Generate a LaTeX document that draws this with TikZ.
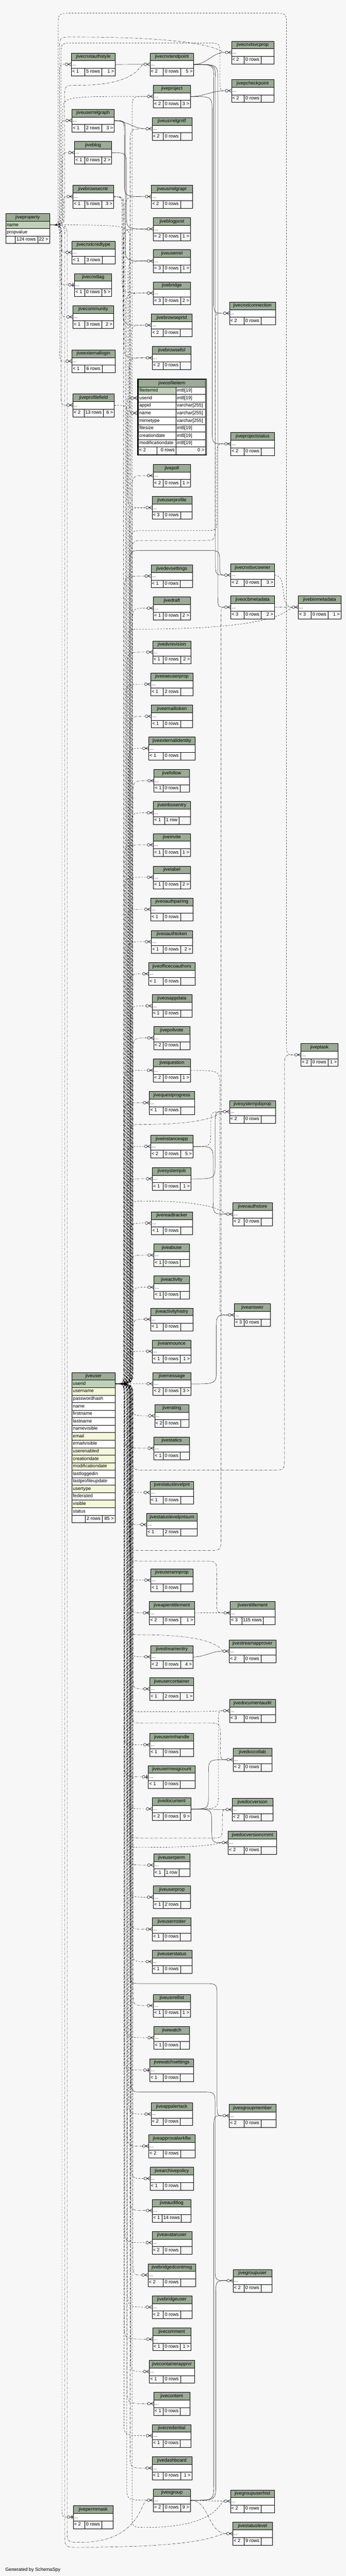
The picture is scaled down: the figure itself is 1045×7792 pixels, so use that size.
\documentclass[tikz,border=0pt]{standalone}
\usepackage{fontspec}
\setmainfont{Liberation Sans}
\usetikzlibrary{calc}
\definecolor{bgc}{HTML}{F7F7F7}
\definecolor{hdrc}{HTML}{9BAB96}
\definecolor{keyc}{HTML}{BED1B8}
\definecolor{idxc}{HTML}{F4F7DA}
\pgfdeclarelayer{bglayer}
\pgfdeclarelayer{edgelayer}
\pgfsetlayers{bglayer,edgelayer,main}
\newcommand\jfont{\fontsize{14.2}{16}\selectfont}
\newcommand\setmw[2]{\expandafter\def\csname jw@#1\endcsname{#2}}
\setmw{0 rows}{52}\setmw{1 row}{44}\setmw{2 rows}{52}\setmw{3 rows}{52}
\setmw{5 rows}{52}\setmw{6 rows}{52}\setmw{9 rows}{52}\setmw{13 rows}{58}
\setmw{14 rows}{58}\setmw{115 rows}{65}
\tikzset{
  cellbox/.style={draw=black, line width=0.9pt, inner xsep=3pt, inner ysep=0pt, anchor=north west, font=\jfont, text height=10.5pt, text depth=3pt},
  hdrbox/.style={cellbox, fill=hdrc, minimum height=23pt},
  rowbox/.style={cellbox, fill=white, minimum height=23pt, align=left},
  footbox/.style={cellbox, fill=bgc, minimum height=23pt},
  txt/.style={inner sep=0pt, font=\jfont, text height=10.5pt, text depth=3pt},
  rel/.style={line width=0.7pt, draw=black},
  imp/.style={rel, dash pattern=on 5pt off 4pt},
  impd/.style={rel, dash pattern=on 7pt off 3pt on 1.5pt off 3pt},
  crowline/.style={line width=0.8pt, draw=black, solid},
  bus/.style={to path={let \p1=(\tikztostart), \p2=(\tikztotarget), \n1={max(-45,min(45,(\y2-\y1)/2))} in .. controls (#1pt,\y1) .. (#1pt,{\y1+(\n1)}) -- (#1pt,{\y2-(\n1)}) .. controls (#1pt,\y2) .. (\tikztotarget)}},
  via/.style n args={3}{to path={let \p1=(\tikztostart), \p2=(\tikztotarget), \n1={max(-40,min(40,(-#2-(\y1))/2))}, \n2={max(-40,min(40,(\y2+#2)/2))} in .. controls (#1pt,\y1) .. (#1pt,{\y1+(\n1)}) -- (#1pt,{-#2pt-(\n1)}) .. controls (#1pt,-#2pt) .. (#1pt+40pt,-#2pt) -- (#3pt-40pt,-#2pt) .. controls (#3pt,-#2pt) .. (#3pt,{-#2pt+(\n2)}) -- (#3pt,{\y2-(\n2)}) .. controls (#3pt,\y2) .. (\tikztotarget)}},
  viac/.style n args={3}{to path={let \p1=(\tikztostart), \p2=(\tikztotarget), \n1={max(-40,min(40,(-#2-(\y1))/2))} in .. controls (#1pt,\y1) .. (#1pt,{\y1+(\n1)}) -- (#1pt,{-#2pt-(\n1)}) .. controls (#1pt,-#2pt) .. (#1pt+40pt,-#2pt) .. controls (#3pt,-#2pt) and (#3pt,\y2) .. (\tikztotarget)}},
}
\newcommand\crowat[2]{%
  \draw[crowline] (#1-9.5,#2) -- (#1,#2-5) (#1-9.5,#2) -- (#1,#2) (#1-9.5,#2) -- (#1,#2+5);
  \filldraw[crowline, fill=bgc] (#1-14,#2) circle[radius=4.2pt];
}
\newcommand\barat[2]{%
  \draw[crowline] (#1-9.8,#2) -- (#1,#2);
  \draw[line width=1.8pt] (#1-4,#2-6) -- (#1-4,#2+6);
  \filldraw[crowline, fill=bgc] (#1-14,#2) circle[radius=4.2pt];
}
% [marker] name x1 y1 x2 left mid right
\newcommand\jtable[8][\crowat]{%
  \pgfmathsetmacro\jtw{#5-#3}%
  \pgfmathsetmacro\jtwi{#5-#3-6}%
  \pgfmathsetmacro\jtc{(#3+#5)/2}%
  \edef\jmw{\csname jw@#7\endcsname}%
  \pgfmathsetmacro\jma{\jtc-\jmw/2}%
  \pgfmathsetmacro\jmb{\jtc+\jmw/2}%
  \pgfmathsetmacro\jwl{\jma-#3}%
  \pgfmathsetmacro\jwm{\jmb-\jma}%
  \pgfmathsetmacro\jwr{#5-\jmb}%
  \pgfmathsetmacro\jya{#4+23}%
  \pgfmathsetmacro\jyb{#4+46}%
  \pgfmathsetmacro\jyc{#4+34.5}%
  \pgfmathsetmacro\jyd{#4+57.5}%
  \node[hdrbox, minimum width=\jtw pt] (#2-h) at (#3,#4) {#2};
  \node[rowbox, text width=\jtwi pt] (#2) at (#3,\jya) {...};
  \node[footbox, minimum width=\jwl pt] (#2-l) at (#3,\jyb) {};
  \node[footbox, minimum width=\jwm pt] (#2-m) at (\jma,\jyb) {};
  \node[footbox, minimum width=\jwr pt] (#2-r) at (\jmb,\jyb) {};
  \node[txt, anchor=west] (#2-lt) at (#3+3,\jyd) {#6};
  \node[txt] (#2-mt) at (\jtc,\jyd) {#7};
  \node[txt, anchor=east] (#2-rt) at (#5-3,\jyd) {#8};
  \coordinate (#2-in) at (#3-18.2,\jyc);
  #1{#3}{\jyc}%
}
\begin{document}
\begin{tikzpicture}[x=1pt,y=-1pt]
\useasboundingbox (0,0) rectangle (1045,7792);
\begin{pgfonlayer}{bglayer}
\fill[bgc] (0,0) rectangle (1045,7792);
\end{pgfonlayer}

% ---------- jiveproperty ----------
\node[hdrbox, minimum width=132pt, minimum height=24pt] (jiveproperty-h) at (17,645) {jiveproperty};
\node[rowbox, fill=keyc, text width=126pt, minimum height=22pt] (jiveproperty-name) at (17,669) {name};
\node[rowbox, text width=126pt, minimum height=22pt] (jiveproperty-propvalue) at (17,691) {propvalue};
\node[footbox, minimum width=28pt] (jiveproperty-l) at (17,713) {};
\node[footbox, minimum width=68pt] (jiveproperty-m) at (45,713) {};
\node[footbox, minimum width=36pt] (jiveproperty-r) at (113,713) {};
\node[txt] (jiveproperty-mt) at (79,724.5) {124 rows};
\node[txt, anchor=east] (jiveproperty-rt) at (146,724.5) {22 >};

% ---------- jiveuser ----------
\node[hdrbox, minimum width=130pt] (jiveuser-h) at (217,4151) {jiveuser};
\foreach \cn/\cf [count=\k from 0] in {userid/keyc, username/idxc, passwordhash/white, name/white, firstname/white, lastname/white, namevisible/white, email/idxc, emailvisible/white, userenabled/idxc, creationdate/idxc, modificationdate/idxc, lastloggedin/white, lastprofileupdate/white, usertype/idxc, federated/white, visible/idxc, status/white}{
  \node[rowbox, fill=\cf, text width=124pt, minimum height=22.7pt] (jiveuser-\cn) at (217,{4174+22.7*\k}) {\cn};
}
\node[footbox, minimum width=40pt, minimum height=22.7pt] (jiveuser-l) at (217,4582.6) {};
\node[footbox, minimum width=52pt, minimum height=22.7pt] (jiveuser-m) at (257,4582.6) {};
\node[footbox, minimum width=38pt, minimum height=22.7pt] (jiveuser-r) at (309,4582.6) {};
\node[txt] (jiveuser-mt) at (283,4594) {2 rows};
\node[txt, anchor=east] (jiveuser-rt) at (344,4594) {85 >};

% ---------- jiveosfileitem (focus) ----------
\node[draw, line width=2pt, inner sep=0pt, minimum width=208pt, minimum height=230pt, anchor=north west] (jiveosfileitem-frame) at (415,1145) {};
\node[hdrbox, minimum width=203pt, minimum height=22.5pt] (jiveosfileitem-h) at (417.5,1147.5) {jiveosfileitem};
\foreach \cn/\ct/\cf [count=\k from 0] in {fileitemid/int8[19]/keyc, userid/int8[19]/white, appid/varchar[255]/white, name/varchar[255]/white, mimetype/varchar[255]/white, filesize/int8[19]/white, creationdate/int8[19]/white, modificationdate/int8[19]/white}{
  \node[rowbox, fill=\cf, text width=107.5pt, minimum height=22.7pt] (jiveosfileitem-\cn) at (417.5,{1170+22.7*\k}) {\cn};
  \node[rowbox, text width=83.5pt, minimum height=22.7pt] (jiveosfileitem-\cn-t) at (531,{1170+22.7*\k}) {\ct};
}
\node[footbox, minimum width=55.5pt, minimum height=22.5pt] (jiveosfileitem-l) at (417.5,1351.6) {};
\node[footbox, minimum width=58pt, minimum height=22.5pt] (jiveosfileitem-m) at (473,1351.6) {};
\node[footbox, minimum width=89.5pt, minimum height=22.5pt] (jiveosfileitem-r) at (531,1351.6) {};
\node[txt, anchor=west] (jiveosfileitem-lt) at (420.5,1362.8) {< 2};
\node[txt, anchor=east] (jiveosfileitem-mt) at (528,1362.8) {0 rows};
\node[txt, anchor=east] (jiveosfileitem-rt) at (617.5,1362.8) {0 >};
\coordinate (jiveosfileitem-userid-in) at (395.8,1204.05);
\coordinate (jiveosfileitem-name-in) at (395.8,1249.45);
\crowat{414}{1204.05}
\crowat{414}{1249.45}

% ---------- left column ----------
\jtable{jivecnxtauthstyle}{215}{160}{348}{< 1}{5 rows}{1 >}
\jtable{jiveuserrelgraph}{217}{330}{345}{< 1}{2 rows}{3 >}
\jtable{jiveblog}{225}{427}{337}{< 1}{0 rows}{2 >}
\jtable{jivebrowsecntr}{220}{560}{343}{< 1}{5 rows}{3 >}
\jtable{jivecnxtcredtype}{217}{729}{347}{< 1}{3 rows}{}
\jtable[\barat]{jivecnxttag}{225}{827}{337}{< 1}{0 rows}{5 >}
\jtable{jivecommunity}{220}{924}{343}{< 1}{3 rows}{2 >}
\jtable{jiveexternallogin}{217}{1058}{347}{< 1}{6 rows}{}
\jtable{jiveprofilefield}{220}{1191}{345}{< 2}{13 rows}{6 >}
\jtable[\barat]{jivepermmask}{221}{7579}{341}{< 2}{0 rows}{}

% ---------- middle column ----------
\jtable{jivecnxtendpoint}{453}{160}{585}{< 2}{0 rows}{5 >}
\jtable{jiveproject}{463}{257}{575}{< 2}{0 rows}{3 >}
\jtable{jiveusrrelgrntf}{459}{355}{579}{< 2}{0 rows}{}
\jtable{jiveusrrelgrapr}{457}{560}{581}{< 2}{0 rows}{}
\jtable{jiveblogpost}{463}{658}{575}{< 2}{0 rows}{1 >}
\jtable{jiveuserrel}{463}{755}{575}{< 3}{0 rows}{1 >}
\jtable{jivebridge}{463}{852}{575}{< 3}{0 rows}{2 >}
\jtable{jivebrowseprtd}{457}{949}{580}{< 2}{0 rows}{}
\jtable{jivebrowsefol}{460}{1048}{577}{< 2}{0 rows}{}
\jtable{jivepoll}{463}{1404}{575}{< 2}{0 rows}{1 >}
\jtable{jiveuserprofile}{459}{1501}{579}{< 3}{0 rows}{}
\jtable{jivedevsettings}{456}{1708}{581}{< 1}{0 rows}{}
\jtable{jivedraft}{463}{1805}{575}{< 1}{0 rows}{2 >}
\jtable{jivedvrevision}{461}{1938}{577}{< 1}{0 rows}{2 >}
\jtable{jiveeaeuserprop}{455}{2035}{583}{< 1}{2 rows}{}
\jtable{jiveemailtoken}{457}{2132}{581}{< 1}{0 rows}{}
\jtable{jiveexternalidentity}{449}{2229}{589}{< 1}{0 rows}{}
\jtable{jivefollow}{465}{2327}{572}{< 1}{0 rows}{}
\jtable{jiveinboxentry}{463}{2424}{575}{< 1}{1 row}{}
\jtable{jiveinvite}{463}{2521}{575}{< 1}{0 rows}{1 >}
\jtable{jivelabel}{463}{2619}{575}{< 1}{0 rows}{2 >}
\jtable{jiveoauthpairing}{455}{2716}{583}{< 1}{0 rows}{}
\jtable{jiveoauthtoken}{457}{2814}{581}{< 1}{0 rows}{2 >}
\jtable{jiveofficecoauthors}{449}{2911}{589}{< 1}{0 rows}{}
\jtable{jiveosappdata}{459}{3008}{579}{< 1}{0 rows}{}
\jtable{jivepollvote}{464}{3105}{573}{< 2}{0 rows}{}
\jtable{jivequestion}{463}{3203}{575}{< 2}{0 rows}{1 >}
\jtable{jivequestprogress}{451}{3301}{587}{< 1}{0 rows}{}
\jtable{jiveinstanceapp}{455}{3433}{583}{< 2}{0 rows}{5 >}
\jtable{jivesystemjob}{460}{3531}{577}{< 1}{0 rows}{1 >}
\jtable{jivereadtracker}{457}{3665}{581}{< 1}{0 rows}{}
\jtable{jiveabuse}{465}{3762}{572}{< 1}{0 rows}{}
\jtable{jiveactivity}{465}{3859}{572}{< 1}{0 rows}{}
\jtable{jiveactivityhistry}{455}{3956}{583}{< 1}{0 rows}{}
\jtable{jiveannounce}{460}{4053}{577}{< 1}{0 rows}{1 >}
\jtable{jivemessage}{462}{4151}{576}{< 2}{0 rows}{3 >}
\jtable{jiverating}{467}{4248}{571}{< 2}{0 rows}{}
\jtable{jivestatics}{465}{4346}{572}{< 1}{0 rows}{}
\jtable{jivestatuslevelpnt}{453}{4480}{585}{< 1}{0 rows}{}
\jtable{jivestatuslevelpntsum}{443}{4577}{595}{< 1}{2 rows}{}
\jtable{jiveuserannprop}{455}{4745}{583}{< 1}{0 rows}{}
\jtable{jiveapientitlement}{451}{4844}{587}{< 2}{0 rows}{1 >}
\jtable{jivestreamentry}{455}{4977}{583}{< 2}{0 rows}{4 >}
\jtable{jiveusercontainer}{452}{5074}{585}{< 1}{2 rows}{1 >}
\jtable{jiveuserimhandle}{452}{5243}{585}{< 1}{0 rows}{}
\jtable[\barat]{jiveusermesgcount}{448}{5340}{589}{< 1}{0 rows}{}
\jtable{jivedocument}{460}{5437}{577}{< 2}{0 rows}{9 >}
\jtable{jiveuserperm}{464}{5607}{573}{< 1}{1 row}{}
\jtable{jiveuserprop}{463}{5704}{575}{< 1}{2 rows}{}
\jtable{jiveuserroster}{460}{5801}{577}{< 1}{0 rows}{}
\jtable{jiveuserstatus}{459}{5899}{579}{< 1}{0 rows}{}
\jtable{jiveusrrellist}{463}{6032}{575}{< 1}{0 rows}{1 >}
\jtable{jivewatch}{465}{6129}{572}{< 1}{0 rows}{}
\jtable[\barat]{jivewatchsettings}{452}{6227}{585}{< 1}{0 rows}{}
\jtable{jiveappalertack}{456}{6360}{581}{< 2}{0 rows}{}
\jtable{jiveapprovalwrkflw}{449}{6457}{589}{< 2}{0 rows}{}
\jtable{jivearchivepolicy}{453}{6555}{585}{< 1}{0 rows}{}
\jtable{jiveauditlog}{460}{6652}{577}{< 1}{14 rows}{}
\jtable{jiveavataruser}{459}{6749}{579}{< 2}{0 rows}{}
\jtable{jivebridgedcontmsg}{447}{6847}{591}{< 2}{0 rows}{}
\jtable{jivebridgeuser}{459}{6944}{579}{< 2}{0 rows}{}
\jtable{jivecomment}{461}{7041}{576}{< 1}{0 rows}{1 >}
\jtable{jivecontainerapprvr}{451}{7139}{587}{< 1}{0 rows}{}
\jtable{jivecontent}{464}{7236}{573}{< 1}{0 rows}{}
\jtable{jivecredential}{460}{7333}{577}{< 1}{0 rows}{}
\jtable{jivedashboard}{459}{7431}{579}{< 1}{0 rows}{1 >}
\jtable{jivesgroup}{463}{7528}{575}{< 2}{0 rows}{9 >}

% ---------- right column ----------
\jtable{jivecnxtsvcprop}{699}{124}{827}{< 2}{0 rows}{}
\jtable{jivepcheckpoint}{699}{240}{827}{< 2}{0 rows}{}
\jtable{jivecnxtconnection}{693}{913}{832}{< 2}{0 rows}{}
\jtable{jiveprojectstatus}{697}{1308}{829}{< 2}{0 rows}{}
\jtable{jivecnxtsvcowner}{697}{1705}{829}{< 2}{0 rows}{3 >}
\jtable{jiveocbmetadata}{697}{1802}{829}{< 3}{0 rows}{2 >}
\jtable{jivesystemjobprop}{693}{3328}{832}{< 2}{0 rows}{}
\jtable{jiveoauthstore}{703}{3638}{823}{< 2}{0 rows}{}
\jtable{jiveanswer}{708}{3943}{817}{< 3}{0 rows}{}
\jtable{jiveentitlement}{695}{4844}{831}{< 3}{115 rows}{}
\jtable{jivestreamapprover}{692}{4960}{833}{< 2}{0 rows}{}
\jtable{jivedocumentaudit}{693}{5140}{832}{< 3}{0 rows}{}
\jtable{jivedoccollab}{704}{5288}{821}{< 2}{0 rows}{}
\jtable{jivedocversion}{701}{5439}{824}{< 2}{0 rows}{}
\jtable{jivedocversioncmmt}{689}{5539}{836}{< 2}{0 rows}{}
\jtable{jivesgroupmember}{692}{6365}{833}{< 2}{0 rows}{}
\jtable{jivegroupuser}{704}{6864}{821}{< 2}{0 rows}{}
\jtable{jivegroupuserhist}{696}{7531}{829}{< 2}{0 rows}{}
\jtable{jivestatuslevel}{703}{7629}{823}{< 2}{9 rows}{}
\jtable{jivebinmetadata}{901}{1802}{1030}{< 3}{0 rows}{1 >}
\jtable{jiveptask}{909}{3156}{1021}{< 2}{0 rows}{1 >}

\node[txt, anchor=west] (generated) at (16,7774) {Generated by SchemaSpy};

% ---------- connectors ----------
\begin{pgfonlayer}{edgelayer}
% jiveproperty.name children
\draw[imp]  (jiveproperty-name.east) to[bus=180] (jivecnxtauthstyle-in);
\draw[imp]  (jiveproperty-name.east) to[bus=184] (jiveuserrelgraph-in);
\draw[impd] (jiveproperty-name.east) to[bus=188] (jiveblog-in);
\draw[imp]  (jiveproperty-name.east) to[bus=192] (jivebrowsecntr-in);
\draw[impd] (jiveproperty-name.east) to[bus=186] (jivecnxtcredtype-in);
\draw[imp]  (jiveproperty-name.east) to[bus=182] (jivecnxttag-in);
\draw[impd] (jiveproperty-name.east) to[bus=186] (jivecommunity-in);
\draw[imp]  (jiveproperty-name.east) to[bus=180] (jiveexternallogin-in);
\draw[impd] (jiveproperty-name.east) to[bus=184] (jiveprofilefield-in);
\draw[imp]  (jiveproperty-name.east) to[bus=187] (jivepermmask-in);
\draw[impd] (jiveproperty-name.east) to[viac={203}{7690}{425}] (jivesgroup-in);
\draw[impd] (jiveproperty-name.east) to[viac={196}{7705}{650}] (jivestatuslevel-in);
\draw[impd] (jiveproperty-name.east) to[viac={180}{112}{660}] (jivecnxtsvcprop-in);
\draw[imp]  (jiveproperty-name.east) to[via={184}{130}{665}] (jivepcheckpoint-in);
\draw[imp]  (jiveproperty-name.east) to[via={176}{40}{866}] (jiveptask-in);
\draw[impd] (jiveproperty-name.east) to[viac={195}{258}{420}] (jivecnxtendpoint-in);
\draw[imp]  (jiveproperty-name.east) to[bus=190] (jiveproject-in);
\draw[imp]  (jiveproperty-name.east) to[bus=392] (jiveosfileitem-name-in);

% jiveuser.userid children (middle column)
\foreach \t/\bx in {jiveproject/399, jiveusrrelgrapr/385, jiveuserrel/391, jivebrowseprtd/397, jiveosfileitem-userid/388, jiveuserprofile/394, jivedraft/400, jiveeaeuserprop/386, jiveexternalidentity/392, jiveinboxentry/398, jivelabel/384, jiveoauthtoken/390, jiveosappdata/396, jivequestion/382, jiveinstanceapp/388, jivereadtracker/394, jiveactivity/400, jiveannounce/386, jivemessage/392, jiverating/398, jivestatuslevelpnt/384, jiveuserannprop/390, jivestreamentry/396, jiveuserimhandle/382, jivedocument/388, jiveuserprop/394, jiveuserstatus/400, jivewatch/386, jiveappalertack/392, jivearchivepolicy/398, jiveavataruser/384, jivebridgeuser/390, jivecontainerapprvr/396, jivecredential/382, jivesgroup/388}{
  \pgfmathsetmacro\bxx{373+(\bx-381)*1.45}
  \draw[imp] (jiveuser-userid.east) to[bus=\bxx] (\t-in);
}
\foreach \t/\bx in {jiveusrrelgrntf/395, jiveblogpost/381, jivebridge/387, jivebrowsefol/393, jivepoll/399, jivedevsettings/383, jivedvrevision/389, jiveemailtoken/395, jivefollow/401, jiveinvite/383, jiveoauthpairing/389, jiveofficecoauthors/395, jivepollvote/401, jivequestprogress/383, jivesystemjob/389, jiveabuse/395, jiveactivityhistry/401, jivestatics/383, jivestatuslevelpntsum/389, jiveapientitlement/395, jiveusercontainer/401, jiveusermesgcount/383, jiveuserperm/389, jiveuserroster/395, jiveusrrellist/401, jivewatchsettings/383, jiveapprovalwrkflw/389, jiveauditlog/395, jivebridgedcontmsg/401, jivecomment/383, jivecontent/389, jivedashboard/395}{
  \pgfmathsetmacro\bxx{373+(\bx-381)*1.45}
  \draw[impd] (jiveuser-userid.east) to[bus=\bxx] (\t-in);
}

% jiveuser.userid children (right side)
\draw[imp]  (jiveuser-userid.east) to[via={396}{1605}{656}] (jiveprojectstatus-in);
\draw[impd] (jiveuser-userid.east) to[via={399}{1635}{650}] (jivecnxtconnection-in);
\draw[rel]  (jiveuser-userid.east) to[via={393}{1665}{664}] (jivecnxtsvcowner-in);
\draw[impd] (jiveuser-userid.east) to[via={390}{4690}{668}] (jiveocbmetadata-in);
\draw[imp]  (jiveuser-userid.east) to[viac={387}{1903}{872}] (jivebinmetadata-in);
\draw[impd] (jiveuser-userid.east) to[viac={394}{3401}{660}] (jivesystemjobprop-in);
\draw[imp]  (jiveuser-userid.east) to[viac={397}{3633}{672}] (jiveoauthstore-in);
\draw[impd] (jiveuser-userid.east) to[via={400}{4447}{860}] (jiveptask-in);
\draw[impd] (jiveuser-userid.east) to[via={392}{4722}{655}] (jiveentitlement-in);
\draw[impd] (jiveuser-userid.east) to[viac={389}{4945}{668}] (jivestreamapprover-in);
\draw[imp]  (jiveuser-userid.east) to[viac={395}{5178}{668}] (jivedocumentaudit-in);
\draw[impd] (jiveuser-userid.east) to[via={398}{5212}{666}] (jivedoccollab-in);
\draw[impd] (jiveuser-userid.east) to[via={391}{5560}{672}] (jivedocversion-in);
\draw[imp]  (jiveuser-userid.east) to[viac={386}{5588}{660}] (jivedocversioncmmt-in);
\draw[rel]  (jiveuser-userid.east) to[via={393}{6000}{656}] (jivesgroupmember-in);
\draw[rel]  (jiveuser-userid.east) to[via={396}{6328}{650}] (jivegroupuser-in);
\draw[imp]  (jiveuser-userid.east) to[viac={399}{7645}{662}] (jivegroupuserhist-in);

% table to table
\draw[rel]  (jivecnxtauthstyle.east) -- (jivecnxtendpoint-in);
\draw[rel]  (jivecnxtendpoint.east) to[out=0,in=180] (jivecnxtsvcprop-in);
\draw[rel]  (jivecnxtendpoint.east) to[bus=646] (jivecnxtconnection-in);
\draw[rel]  (jivecnxtendpoint.east) to[bus=651] (jivecnxtsvcowner-in);
\draw[rel]  (jivecnxtendpoint.east) to[bus=658] (jiveocbmetadata-in);
\draw[rel]  (jiveproject.east) to[out=0,in=180] (jivepcheckpoint-in);
\draw[rel]  (jiveproject.east) to[bus=641] (jiveprojectstatus-in);
\draw[rel]  (jiveuserrelgraph.east) to[out=0,in=180] (jiveusrrelgrntf-in);
\draw[rel]  (jiveuserrelgraph.east) to[bus=376] (jiveusrrelgrapr-in);
\draw[rel]  (jiveuserrelgraph.east) to[bus=379] (jiveuserrel-in);
\draw[rel]  (jiveblog.east) to[bus=382] (jiveblogpost-in);
\draw[impd] (jivebrowsecntr.east) to[bus=372] (jivebrowseprtd-in);
\draw[impd] (jivebrowsecntr.east) to[bus=375] (jivebrowsefol-in);
\draw[imp]  (jivebrowsecntr.east) to[bus=369] (jivebridge-in);
\draw[imp]  (jiveprofilefield.east) to[bus=386] (jiveuserprofile-in);
\draw[imp]  (jivecnxtsvcowner.east) to[out=0,in=180] (jivebinmetadata-in);
\draw[impd] (jiveocbmetadata.east) -- (jivebinmetadata-in);
\draw[imp]  (jiveinstanceapp.east) to[bus=637] (jivesystemjobprop-in);
\draw[rel]  (jiveinstanceapp.east) to[bus=644] (jiveoauthstore-in);
\draw[rel]  (jivesystemjob.east) to[bus=650] (jivesystemjobprop-in);
\draw[imp]  (jivequestion.east) to[bus=664] (jiveanswer-in);
\draw[rel]  (jivemessage.east) to[bus=654] (jiveanswer-in);
\draw[imp]  (jiveapientitlement.east) -- (jiveentitlement-in);
\draw[rel]  (jivestreamentry.east) to[out=0,in=180] (jivestreamapprover-in);
\draw[rel]  (jivedocument.east) to[bus=630] (jivedoccollab-in);
\draw[rel]  (jivedocument.east) to[out=0,in=180] (jivedocversion-in);
\draw[rel]  (jivedocument.east) to[bus=640] (jivedocversioncmmt-in);
\draw[imp]  (jivedocument.east) to[bus=660] (jivedocumentaudit-in);
\draw[imp]  (jivesgroup.east) to[out=0,in=180] (jivegroupuserhist-in);
\draw[impd] (jivesgroup.east) to[out=0,in=180] (jivestatuslevel-in);
\draw[rel]  (jivesgroup.east) to[bus=646] (jivesgroupmember-in);
\draw[rel]  (jivesgroup.east) to[bus=652] (jivegroupuser-in);
\end{pgfonlayer}
\end{tikzpicture}
\end{document}
